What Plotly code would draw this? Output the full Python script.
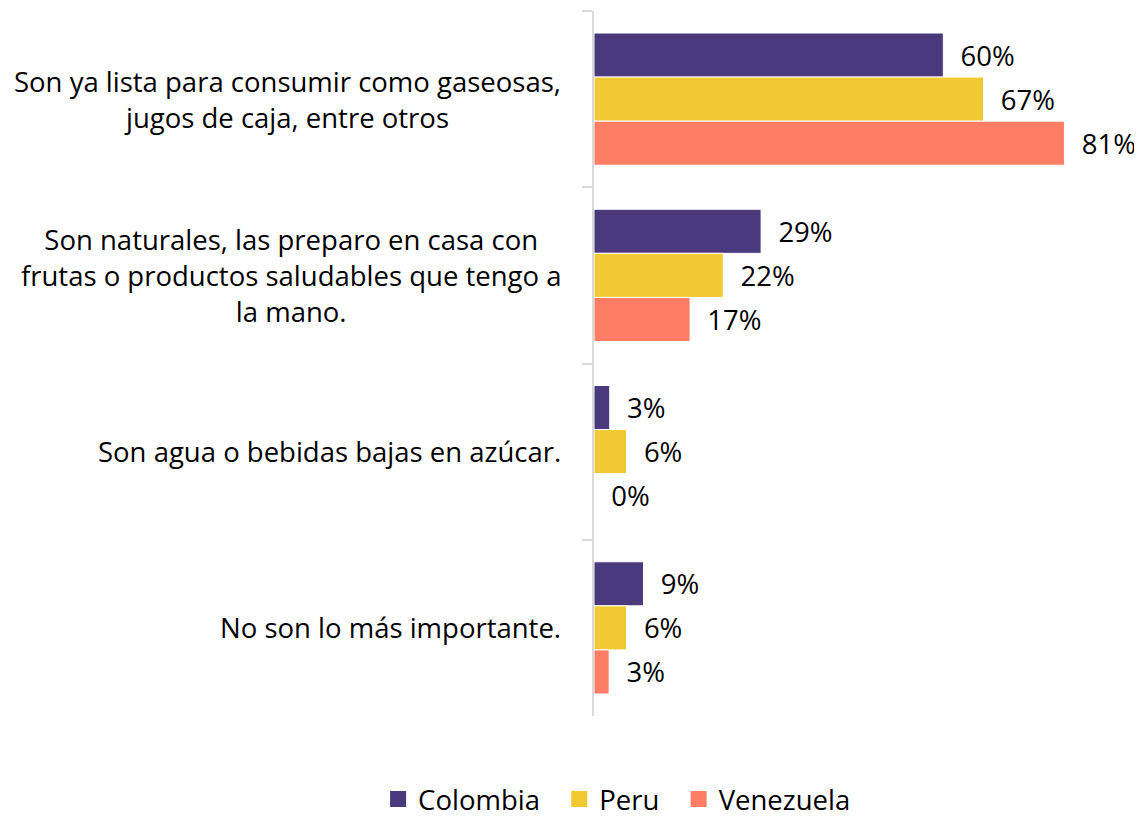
import plotly.graph_objects as go

categories = [
    "Son ya lista para consumir como gaseosas,<br>jugos de caja, entre otros",
    "Son naturales, las preparo en casa con<br>frutas o productos saludables que tengo a<br>la mano.",
    "Son agua o bebidas bajas en azúcar.",
    "No son lo más importante.",
]
series_names = ["Colombia", "Peru", "Venezuela"]
colombia = [60.0, 28.7, 2.7, 8.5]
peru = [66.9, 22.2, 5.6, 5.6]
venezuela = [80.8, 16.5, 0.0, 2.6]
series_values = [colombia, peru, venezuela]
colors = ["#4a397c", "#f1c931", "#fe7d64"]

FONT = "Open Sans"
FS = 27.5
OFF = 8  # default page body margin

fig = go.Figure()
for name, vals, col in zip(series_names, series_values, colors):
    fig.add_trace(go.Bar(
        y=categories, x=vals, name=name, orientation="h", showlegend=False,
        marker=dict(color=col, line=dict(color="white", width=1)),
        texttemplate="\u00a0\u00a0%{x:.0f}%", textposition="outside",
        textfont=dict(family=FONT, size=FS, color="black"),
        cliponaxis=False,
    ))
for name, col in zip(series_names, colors):
    fig.add_trace(go.Scatter(
        x=[None], y=[None], mode="markers", name=name + "\u00a0\u00a0",
        marker=dict(symbol="square", size=18, color=col),
    ))

annotations = []
for cat in categories:
    annotations.append(dict(
        xref="paper", yref="y", x=0, y=cat, xanchor="right", yanchor="middle",
        xshift=-31, align="center",
        text=cat, showarrow=False,
        font=dict(family=FONT, size=FS, color="black"),
    ))

fig.update_layout(
    width=1142, height=816,
    margin=dict(l=594 - OFF, r=24 + OFF, t=11 - OFF, b=100 + OFF),
    plot_bgcolor="white", paper_bgcolor="white",
    barmode="group", bargap=0.25, bargroupgap=0,
    font=dict(family=FONT, size=FS, color="black"),
    showlegend=True,
    legend=dict(orientation="h", x=-0.412, xanchor="left",
                yref="container", y=1 - (799 - OFF) / 816, yanchor="middle",
                font=dict(family=FONT, size=FS, color="black"), traceorder="normal",
                itemsizing="trace"),
    annotations=annotations,
)
fig.update_xaxes(range=[0, 90], showticklabels=False, showgrid=False, zeroline=False, showline=False)
fig.update_yaxes(autorange="reversed", showticklabels=False, showgrid=False, showline=True,
                 linecolor="#d9d9d9", linewidth=2, ticks="outside", ticklen=10,
                 tickcolor="#d9d9d9", tickwidth=2, tickson="boundaries")

fig.write_html("out.html")
